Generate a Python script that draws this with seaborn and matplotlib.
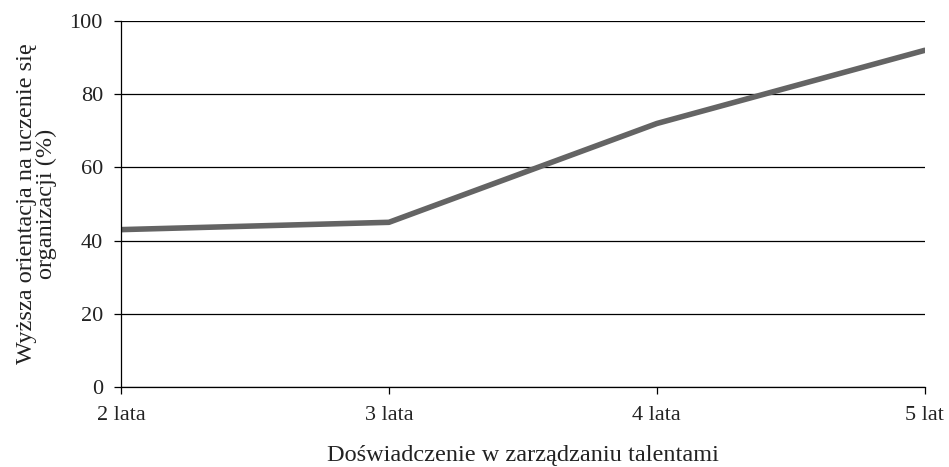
import pandas as pd
import seaborn as sns
import matplotlib.pyplot as plt

# Data
experience = ["2 lata", "3 lata", "4 lata", "5 lat"]
learning_pct = [43, 45, 72, 92]

df = pd.DataFrame({"experience": experience, "pct": learning_pct})

sns.set_style("white")
plt.rcParams["font.family"] = ["Liberation Serif", "DejaVu Serif"]

fig = plt.figure(figsize=(9.49, 4.67), dpi=100)
ax = fig.add_axes([0.1275, 0.1713, 0.847, 0.7837])

ax.yaxis.grid(True, color="black", linewidth=0.9)
ax.set_axisbelow(True)
sns.lineplot(data=df, x="experience", y="pct", color="#646464",
             linewidth=4, solid_capstyle="round", ax=ax)

ax.set_xlim(0, len(experience) - 1)
ax.set_ylim(0, 100)
ax.set_yticks([0, 20, 40, 60, 80, 100])

sns.despine(ax=ax, top=True, right=True)
for side in ["left", "bottom"]:
    ax.spines[side].set_color("black")
    ax.spines[side].set_linewidth(0.9)

ax.tick_params(axis="both", direction="out", length=5, width=0.9,
               color="black", labelsize=16, labelcolor="#222222",
               bottom=True, left=True)
ax.tick_params(axis="y", pad=8)
ax.tick_params(axis="x", pad=9)

ax.set_xlabel("Doświadczenie w zarządzaniu talentami", fontsize=17.5,
              color="#222222", labelpad=14)
ax.set_ylabel("Wyższa orientacja na uczenie się\norganizacji (%)",
              fontsize=17.5, color="#222222", labelpad=9, linespacing=0.95)

plt.savefig("out.png", dpi=100)
